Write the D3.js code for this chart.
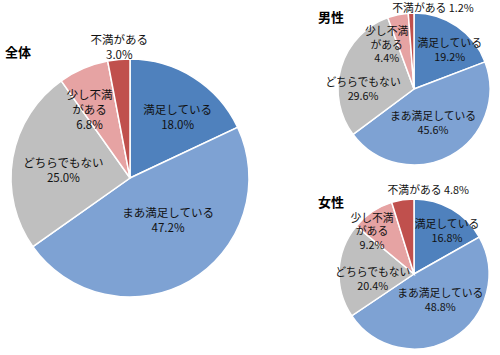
<!DOCTYPE html>
<html><head><meta charset="utf-8">
<script src="https://cdn.jsdelivr.net/npm/d3@7"></script>
<style>body{margin:0;background:#fff;}svg{display:block;}</style>
</head><body>
<svg id="c" width="500" height="355"></svg>
<script>
const categories = ["満足している","まあ満足している","どちらでもない","少し不満がある","不満がある"];
const groups = ["全体","男性","女性"];
const valuesAll = [18.0, 47.2, 25.0, 6.8, 3.0];
const valuesMale = [19.2, 45.6, 29.6, 4.4, 1.2];
const valuesFemale = [16.8, 48.8, 20.4, 9.2, 4.8];
const colors = ["#4F81BD","#7EA2D3","#BFBFBF","#E6A3A3","#C0504D"];

// label text lines (layout of category names)
const labelLines = [["満足している"],["まあ満足している"],["どちらでもない"],["少し不満","がある"],["不満がある"]];

const charts = [
  {title: groups[0], values: valuesAll, cx:130, cy:178, r:119, tx:5, ty:57, fs:11.5, lh:15,
   lab:[[0.40,-0.51],[0.32,0.36],[-0.56,-0.06],[-0.34,-0.57],[-0.09,-1.10]], inline:false},
  {title: groups[1], values: valuesMale, cx:414, cy:89, r:76, tx:318, ty:22, fs:10.8, lh:13.5,
   lab:[[0.47,-0.51],[0.25,0.45],[-0.67,0.0],[-0.36,-0.58],[0.25,-1.06]], inline:true},
  {title: groups[2], values: valuesFemale, cx:414, cy:274, r:75, tx:318, ty:207, fs:10.8, lh:13.5,
   lab:[[0.44,-0.57],[0.35,0.35],[-0.55,0.07],[-0.56,-0.57],[0.19,-1.12]], inline:true}
];

const svg = d3.select("#c");
const pie = d3.pie().sort(null).value(d => d);

charts.forEach(ch => {
  const g = svg.append("g").attr("transform", `translate(${ch.cx},${ch.cy})`);
  const arc = d3.arc().innerRadius(0).outerRadius(ch.r);
  g.selectAll("path").data(pie(ch.values)).enter().append("path")
    .attr("d", arc)
    .attr("fill", (d,i) => colors[i])
    .attr("stroke", "#fff").attr("stroke-width", 1.5);

  svg.append("text").attr("x", ch.tx).attr("y", ch.ty)
    .attr("font-family", "Noto Sans CJK JP").attr("font-weight", "bold")
    .attr("font-size", 13).attr("fill", "#000").text(ch.title);

  ch.values.forEach((v, i) => {
    const lines = labelLines[i].slice();
    const pct = d3.format(".1f")(v) + "%";
    if (ch.inline && i === 4) {
      lines[0] = lines[0] + " " + pct;
    } else {
      lines.push(pct);
    }
    const x = ch.lab[i][0] * ch.r, y = ch.lab[i][1] * ch.r;
    const n = lines.length;
    const t = g.append("text")
      .attr("font-family", "Noto Sans CJK JP").attr("font-size", ch.fs)
      .attr("fill", "#111").attr("text-anchor", "middle");
    lines.forEach((ln, k) => {
      t.append("tspan").attr("x", x)
        .attr("y", y + (k - (n - 1) / 2) * ch.lh)
        .attr("dy", "0.35em").text(ln);
    });
  });
});
</script>
</body></html>
